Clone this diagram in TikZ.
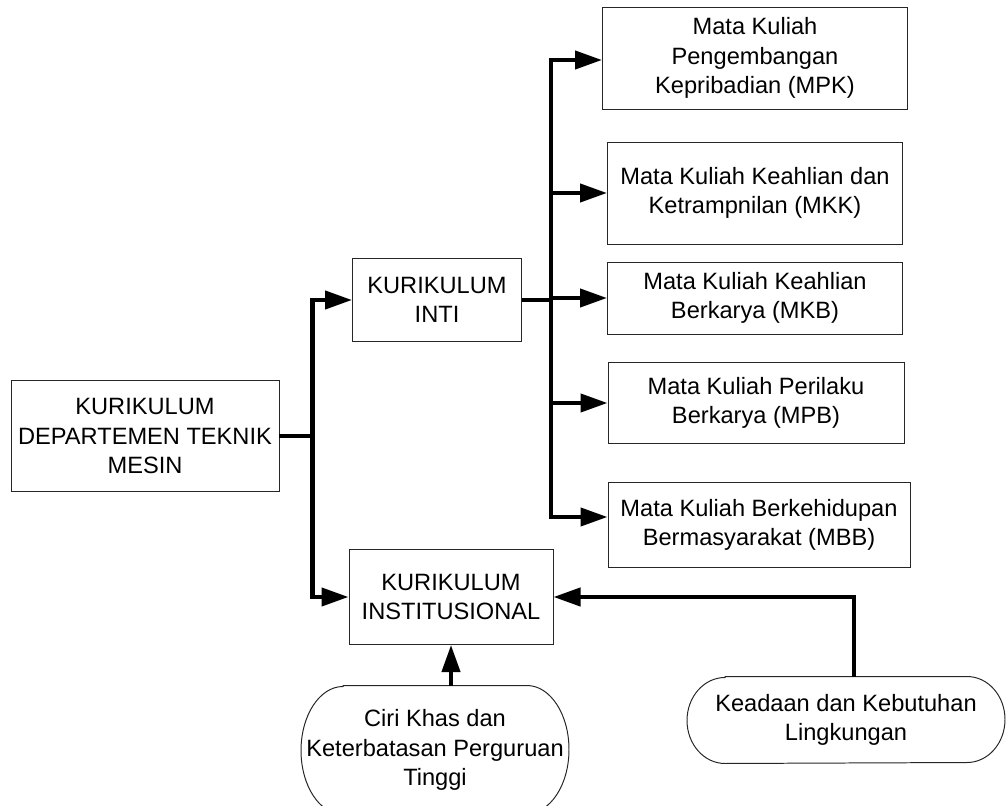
\documentclass[tikz,border=0pt]{standalone}
\usepackage{fontspec}
\setmainfont{Liberation Sans}
\usepackage{tikz}
\usetikzlibrary{calc}
\usetikzlibrary{arrows.meta}
\tikzset{
	kotak/.style={draw=black!85,line width=0.7pt,inner sep=0pt,align=center,font=\fontsize{16.8}{21}\selectfont},
	ukuran/.style 2 args={minimum width=#1*0.025cm,minimum height=#2*0.025cm},
	lonjong/.style={kotak,draw=none},
	tepi/.style={draw=black!85,line width=0.7pt},
	garis/.style={line width=2.9pt,line join=miter},
	panah/.style={garis,-{Triangle[length=0.675cm,width=0.45cm]}},
}
% tepi lonjong: #1 nama node, #2 jari-jari datar, #3 jari-jari tegak
\newcommand{\tepilonjong}[3]{%
	\draw[tepi] ($(#1.north west)+(#2,0)$) -- ($(#1.north east)+(-#2,0)$)
		arc[start angle=90,end angle=-90,x radius=#2*0.025cm,y radius=#3*0.025cm]
		-- ($(#1.south west)+(#2,0)$)
		arc[start angle=270,end angle=90,x radius=#2*0.025cm,y radius=#3*0.025cm] -- cycle;}

\begin{document}
\begin{tikzpicture}[x=0.025cm,y=-0.025cm]
			% ukuran gambar (piksel)
			\useasboundingbox (0,0) rectangle (1006,806);
			
			% kotak utama
			\node[kotak,ukuran={268}{111}] (dept) at (145,436) {KURIKULUM\\DEPARTEMEN TEKNIK\\MESIN};
			\node[kotak,ukuran={169}{83}] (inti) at (437,300) {KURIKULUM\\INTI};
			\node[kotak,ukuran={204}{95}] (inst) at (451,597) {KURIKULUM\\INSTITUSIONAL};
			
			% kotak mata kuliah
			\node[kotak,ukuran={305}{102}] (mpk) at (755,58) {Mata Kuliah\\Pengembangan\\Kepribadian (MPK)};
			\node[kotak,ukuran={295}{102}] (mkk) at (755,193) {Mata Kuliah Keahlian dan\\Ketrampnilan (MKK)};
			\node[kotak,ukuran={295}{72}] (mkb) at (755,298) {Mata Kuliah Keahlian\\Berkarya (MKB)};
			\node[kotak,ukuran={296}{81}] (mpb) at (756,403) {Mata Kuliah Perilaku\\Berkarya (MPB)};
			\node[kotak,ukuran={302}{85}] (mbb) at (759,525) {Mata Kuliah Berkehidupan\\Bermasyarakat (MBB)};
			
			% faktor luar
			\node[lonjong,ukuran={267}{128}] (ciri) at (435,750) {Ciri Khas dan\\Keterbatasan Perguruan\\Tinggi};
			\node[lonjong,ukuran={317}{86}] (keadaan) at (846,720) {Keadaan dan Kebutuhan\\Lingkungan};
			\tepilonjong{ciri}{42}{64}
			\tepilonjong{keadaan}{38}{43}
			
			% percabangan kiri
			\draw[garis] (dept.east) -- ++(33,0) coordinate (j1);
			\draw[panah] (j1) |- (inti.west);
			\draw[panah] (j1) |- (inst.west);
			
			% percabangan kanan
			\draw[garis] (inti.east) -- ++(29,0) coordinate (j2);
			\draw[panah] (j2) |- ($(mpk.west)+(0,2)$);
			\draw[panah] (j2) |- (mkk.west);
			\draw[panah] (j2) |- (mkb.west);
			\draw[panah] (j2) |- (mpb.west);
			\draw[panah] (j2) |- ($(mbb.west)+(0,-8)$);
			
			% masukan ke kurikulum institusional
			\draw[panah] (inst.south |- ciri.north) -- (inst.south);
			\draw[panah] ($(keadaan.north)+(8,0)$) |- (inst.east);
			
			\end{tikzpicture}
\end{document}
